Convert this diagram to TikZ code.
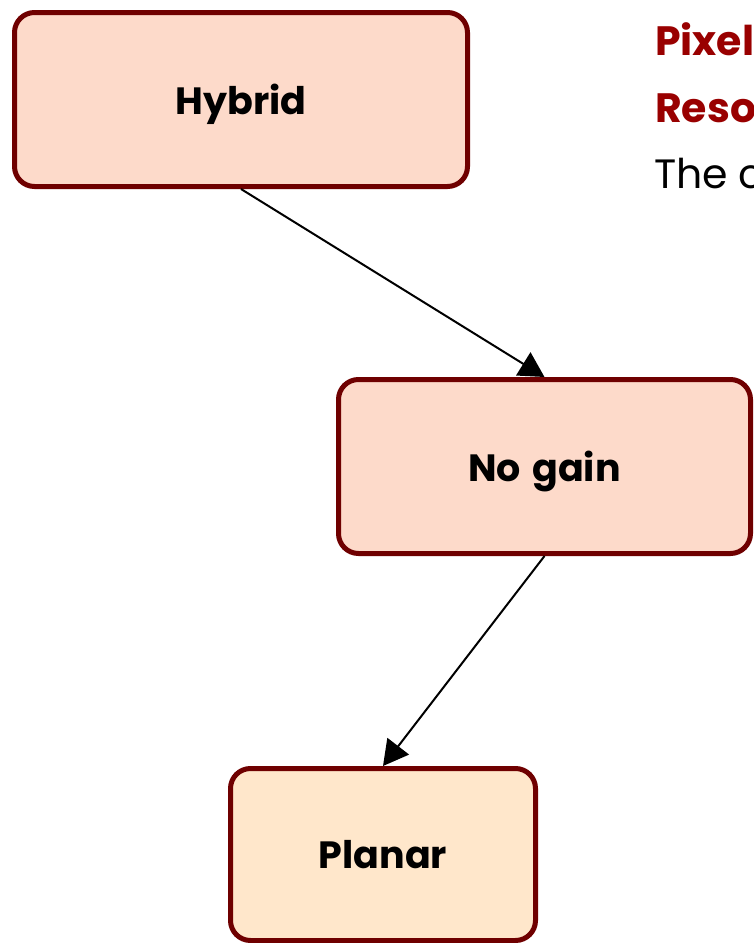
\documentclass[tikz,border=0pt]{standalone}
\usepackage{fontspec}
\setmainfont{Poppins}
\usetikzlibrary{arrows.meta}
\definecolor{boxline}{HTML}{6F0000}
\definecolor{salmonfill}{HTML}{FDDACA}
\definecolor{peachfill}{HTML}{FFE7CB}
\definecolor{headred}{HTML}{990000}
\tikzset{
  flowbox/.style={draw=boxline, line width=5pt, rounded corners=20pt,
    font=\fontsize{38}{44}\selectfont\bfseries, text=black, inner sep=0pt,
    text depth=0pt},
  flowarrow/.style={line width=2pt, -{Triangle[length=25pt,width=27pt]}},
  heading/.style={anchor=base west, inner sep=0pt, text=headred,
    font=\fontsize{41}{48}\selectfont\bfseries},
  bodytext/.style={anchor=base west, inner sep=0pt, text=black,
    font=\fontsize{41}{48}\selectfont}
}
\begin{document}
\begin{tikzpicture}[x=1pt, y=-1pt]
  \useasboundingbox (0,0) rectangle (754,943);
  \clip (0,0) rectangle (754,943);
  \node[flowbox, fill=salmonfill, minimum width=453pt, minimum height=174pt]
    (hybrid) at (241,99.5) {Hybrid};
  \node[flowbox, fill=salmonfill, minimum width=412pt, minimum height=174pt]
    (nogain) at (544.5,466.5) {No\hspace{0.3em}gain};
  \node[flowbox, fill=peachfill, minimum width=305pt, minimum height=172pt]
    (planar) at (383,854.5) {Planar};
  \draw[flowarrow] (hybrid.south) -- (nogain.north);
  \draw[flowarrow] (nogain.south) -- (planar.north);
  \node[heading] (pixels) at (655,55) {Pixels};
  \node[heading] (resol) at (655,122) {Resol};
  \node[bodytext] (thec) at (654,188) {The c};
\end{tikzpicture}
\end{document}
